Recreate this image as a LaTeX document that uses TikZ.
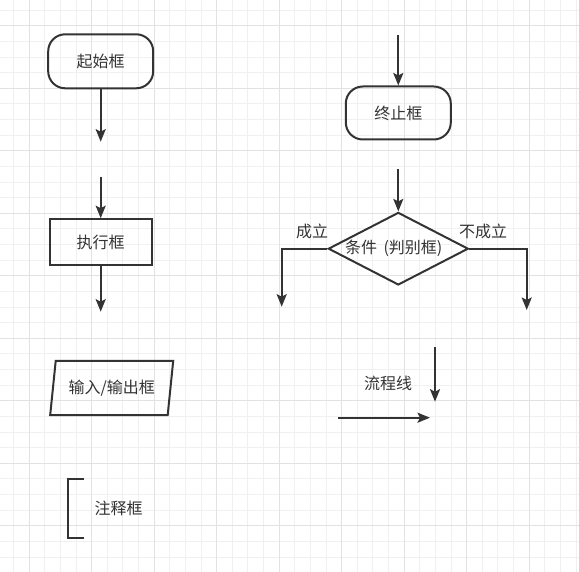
\documentclass[tikz,border=0pt]{standalone}
\usepackage{fontspec}
\newfontfamily\cjk{Noto Sans CJK SC}
\usetikzlibrary{arrows.meta,shapes.geometric,positioning}
\definecolor{ink}{HTML}{333333}
\definecolor{gridminor}{HTML}{F0F0F0}
\definecolor{gridmajor}{HTML}{E2E2E2}

\begin{document}
\begin{tikzpicture}[x=1pt,y=-1pt,
      box/.style={draw=ink,line width=2pt,text=ink,font=\cjk\fontsize{16}{16}\selectfont,inner sep=0pt},
      txt/.style={text=ink,font=\cjk\fontsize{16}{16}\selectfont,inner sep=0pt},
      arr/.style={draw=ink,line width=2pt,-{Stealth[length=12.5pt,width=10pt,inset=2.5pt]}}]
      \useasboundingbox (0,0) rectangle (579,572);
      \foreach \i in {0,...,36} {
        \draw[gridminor,line width=1pt] (13.55+15.625*\i,0) -- (13.55+15.625*\i,572);
        \draw[gridminor,line width=1pt] (0,10.2+15.625*\i) -- (579,10.2+15.625*\i);
      }
      \foreach \k in {0,...,8} {
        \draw[gridmajor,line width=1pt] (29.2+62.5*\k,0) -- (29.2+62.5*\k,572);
        \draw[gridmajor,line width=1pt] (0,25.8+62.5*\k) -- (579,25.8+62.5*\k);
      }
      \node[box,rounded corners=17pt,minimum width=105pt,minimum height=54pt] (start) at (100.7,61.3) {起始框};
      \node[box,minimum width=102pt,minimum height=46pt] (exec) at (100.7,242.2) {执行框};
      \node[box,trapezium,trapezium left angle=71.4,trapezium right angle=108.6,trapezium stretches body,minimum width=123pt,minimum height=54pt] (io) at (111.7,388) {输入/输出框};
      \node[txt,minimum height=58pt,anchor=west,inner xsep=26pt] (note) at (68.3,508.3) {注释框};
      \draw[draw=ink,line width=2pt] ([xshift=15.7pt]note.north west) -- (note.north west) -- (note.south west) -- ([xshift=15.7pt]note.south west);

      \node[box,rounded corners=17pt,minimum width=105pt,minimum height=53pt] (stop) at (398.3,113) {终止框};
      \node[box,diamond,minimum width=140pt,minimum height=72.6pt,label={[txt,xshift=-4.6pt]center:条件\hspace{3pt} (判别框)}] (cond) at (398.3,248.7) {};
      \node[txt] (yeslbl) at (312,231) {成立};
      \node[txt] (nolbl) at (483,231) {不成立};
      \node[txt] (flowlbl) at (388,383.3) {流程线};

      \coordinate (startout) at (100.7,141.7);
      \coordinate (execin) at (100.7,176.7);
      \coordinate (execout) at (100.7,311.7);
      \coordinate (stopin) at (398.3,35);
      \coordinate (condin) at (398.3,169.3);
      \coordinate (yes) at (281.7,306.7);
      \coordinate (no) at (526.7,310);
      \coordinate (flowa) at (435,347.3);
      \coordinate (flowb) at (435,401.7);
      \coordinate (flowc) at (338.3,417.7);
      \coordinate (flowd) at (430,417.7);

      \draw[arr] (start.south) -- (startout);
      \draw[arr] (execin) -- (exec.north);
      \draw[arr] (exec.south) -- (execout);
      \draw[arr] (stopin) -- (stop.north);
      \draw[arr] (condin) -- (cond.north);
      \draw[arr] (cond.west) -| (yes);
      \draw[arr] (cond.east) -| (no);
      \draw[arr] (flowa) -- (flowb);
      \draw[arr] (flowc) -- (flowd);
    \end{tikzpicture}
\end{document}
